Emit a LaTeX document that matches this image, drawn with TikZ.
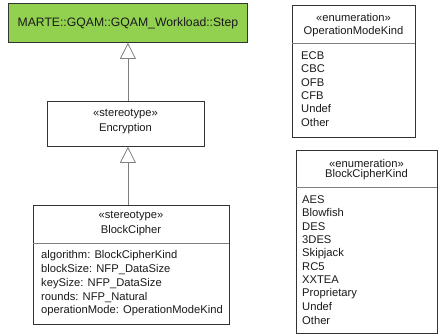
\documentclass[tikz,border=0pt]{standalone}
\usepackage{fontspec}
\setmainfont{Liberation Sans}
\usetikzlibrary{arrows.meta}
\definecolor{stepgreen}{HTML}{92D050}
\definecolor{txt}{HTML}{1A1A1A}
\definecolor{edge}{HTML}{333333}
\definecolor{conn}{HTML}{7F7F7F}
\begin{document}
\begin{tikzpicture}[x=1pt,y=-1pt,
  font=\fontsize{11.2}{13.4}\selectfont,
  box/.style={draw=edge, line width=0.8pt, inner sep=0pt, anchor=north west, fill=white},
  lbl/.style={text=txt, inner sep=0pt},
  item/.style={text=txt, inner sep=0pt, anchor=west},
  sep/.style={draw=conn, line width=0.8pt},
  gen/.style={draw=conn, line width=0.8pt, -{Triangle[length=16pt, width=16pt, fill=white]}}
]
\useasboundingbox (0,0) rectangle (438,335);

% Step
\node[box, fill=stepgreen, minimum width=239pt, minimum height=39pt] (step) at (8,3) {};
\node[lbl, font=\fontsize{12.2}{14}\selectfont] (steptxt) at (step.center) {MARTE::GQAM::GQAM\_Workload::Step};

% Encryption
\node[box, minimum width=157pt, minimum height=45pt] (enc) at (47,101) {};
\node[lbl] (encst) at (125.5,114) {«stereotype»};
\node[lbl] (encnm) at (125.5,129) {Encryption};

% BlockCipher
\node[box, minimum width=196pt, minimum height=119pt] (bc) at (33,205) {};
\coordinate (bcsepl) at (33,243);
\coordinate (bcsepr) at (229,243);
\draw[sep] (bcsepl) -- (bcsepr);
\node[lbl] (bcst) at (131,216) {«stereotype»};
\node[lbl] (bcnm) at (131,231) {BlockCipher};
\node[item] (a1) at (41,256) {algorithm: BlockCipherKind};
\node[item] (a2) at (41,269.7) {blockSize: NFP\_DataSize};
\node[item] (a3) at (41,283.4) {keySize: NFP\_DataSize};
\node[item] (a4) at (41,297.1) {rounds: NFP\_Natural};
\node[item] (a5) at (41,310.8) {operationMode: OperationModeKind};

% OperationModeKind
\node[box, minimum width=123pt, minimum height=132pt] (omk) at (292,5) {};
\coordinate (omksepl) at (292,43);
\coordinate (omksepr) at (415,43);
\draw[sep] (omksepl) -- (omksepr);
\node[lbl] (omkst) at (353.5,17) {«enumeration»};
\node[lbl] (omknm) at (353.5,31.5) {OperationModeKind};
\node[item] (o1) at (301,55.6) {ECB};
\node[item] (o2) at (301,68.9) {CBC};
\node[item] (o3) at (301,82.2) {OFB};
\node[item] (o4) at (301,95.5) {CFB};
\node[item] (o5) at (301,108.8) {Undef};
\node[item] (o6) at (301,122.1) {Other};

% BlockCipherKind
\node[box, minimum width=141pt, minimum height=183pt] (bck) at (296,150) {};
\coordinate (bcksepl) at (296,187);
\coordinate (bcksepr) at (437,187);
\draw[sep] (bcksepl) -- (bcksepr);
\node[lbl] (bckst) at (366.5,163) {«enumeration»};
\node[lbl] (bcknm) at (366.5,175) {BlockCipherKind};
\node[item] (k1) at (302,199.5) {AES};
\node[item] (k2) at (302,212.9) {Blowfish};
\node[item] (k3) at (302,226.3) {DES};
\node[item] (k4) at (302,239.7) {3DES};
\node[item] (k5) at (302,253.1) {Skipjack};
\node[item] (k6) at (302,266.5) {RC5};
\node[item] (k7) at (302,279.9) {XXTEA};
\node[item] (k8) at (302,293.3) {Proprietary};
\node[item] (k9) at (302,306.7) {Undef};
\node[item] (k10) at (302,320.1) {Other};

% generalizations
\draw[gen] (enc.north -| step.south) -- (step.south);
\draw[gen] (bc.north -| step.south) -- (enc.south -| step.south);
\end{tikzpicture}
\end{document}
